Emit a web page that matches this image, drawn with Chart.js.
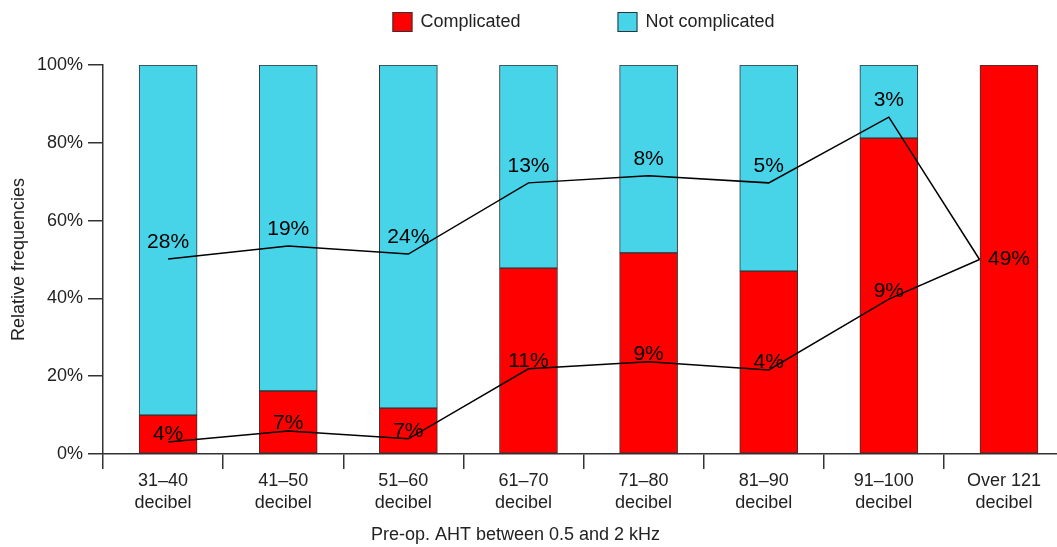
<!DOCTYPE html>
<html>
<head>
<meta charset="utf-8">
<script src="https://cdn.jsdelivr.net/npm/chart.js@4"></script>
<style>
  html, body { margin: 0; padding: 0; overflow: hidden; background: #fff; }
  #wrap { width: 1064px; height: 547px; position: relative; }
</style>
</head>
<body>
<div id="wrap"><canvas id="grafico"></canvas></div>
<script>
const categorias = [
  ["31–40", "decibel"], ["41–50", "decibel"], ["51–60", "decibel"], ["61–70", "decibel"],
  ["71–80", "decibel"], ["81–90", "decibel"], ["91–100", "decibel"], ["Over 121", "decibel"]
];
const complicado = [10, 16.2, 11.8, 47.8, 51.7, 47, 81.2, 100];
const naoComplicado = [90, 83.8, 88.2, 52.2, 48.3, 53, 18.8, 0];

// black lines with the percentage labels
const linhaInferior = [3.1, 5.9, 3.9, 21.9, 23.7, 21.6, 39.8, 50];
const rotulosInferior = ["4%", "7%", "7%", "11%", "9%", "4%", "9%", "49%"];
const linhaSuperior = [50.1, 53.5, 51.4, 69.7, 71.5, 69.7, 86.6, 50];
const rotulosSuperior = ["28%", "19%", "24%", "13%", "8%", "5%", "3%", ""];

const yTicks = [0, 20, 40, 60, 80, 100];

const VERMELHO = "#ff0000";
const CIANO = "#47d3e8";
const TEXTO = "#222";
const EIXO = "#333";
const MEIA_BARRA = 0.245;
const DESLOCAMENTO = 0.042; // bars sit a little right of the category centre

Chart.defaults.font.family = "'Liberation Sans', Arial, sans-serif";
Chart.defaults.color = TEXTO;

function barrasXY(valores) {
  return valores.map((v, i) => ({ x: i, y: v }));
}
// the last point of both lines sits on the left edge of the last bar
function pontos(valores) {
  return valores.map((v, i) => ({ x: i === valores.length - 1 ? i - MEIA_BARRA : i, y: v }));
}

const legendaERotulos = {
  id: "legendaERotulos",
  afterDatasetsDraw(chart) {
    const ctx = chart.ctx;
    const barras = chart.getDatasetMeta(0).data;
    ctx.save();
    ctx.fillStyle = "#000";
    ctx.font = "21px 'Liberation Sans', Arial, sans-serif";
    ctx.textAlign = "center";
    ctx.textBaseline = "middle";
    [[2, rotulosInferior, -8], [3, rotulosSuperior, -17]].forEach(([idx, rotulos, dy]) => {
      const pts = chart.getDatasetMeta(idx).data;
      pts.forEach((p, i) => {
        if (!rotulos[i]) return;
        const xb = barras[i].x;
        const naBorda = Math.abs(xb - p.x) > 2;
        ctx.fillText(rotulos[i], xb, naBorda ? p.y : p.y + dy);
      });
    });
    ctx.restore();
  },
  afterDraw(chart) {
    const ctx = chart.ctx;
    const area = chart.chartArea;
    ctx.save();
    ctx.font = "18px 'Liberation Sans', Arial, sans-serif";
    ctx.textBaseline = "middle";
    ctx.textAlign = "left";
    const itens = [["Complicated", VERMELHO], ["Not complicated", CIANO]];
    const caixa = 20, folga = 8, entre = 97;
    const larguras = itens.map(([t]) => caixa + folga + ctx.measureText(t).width);
    const total = larguras.reduce((a, b) => a + b, 0) + entre * (itens.length - 1);
    let x = (area.left + area.right) / 2 - total / 2;
    const yc = 22;
    itens.forEach(([t, cor], i) => {
      ctx.fillStyle = cor;
      ctx.fillRect(x, yc - caixa / 2, caixa, caixa);
      ctx.strokeStyle = EIXO;
      ctx.lineWidth = 1;
      ctx.strokeRect(x + 0.5, yc - caixa / 2 + 0.5, caixa - 1, caixa - 1);
      ctx.fillStyle = TEXTO;
      ctx.fillText(t, x + caixa + folga, yc);
      x += larguras[i] + entre;
    });
    // x axis title
    ctx.textAlign = "center";
    ctx.fillText("Pre-op. AHT between 0.5 and 2 kHz", (area.left + area.right) / 2 - 68, 535);
    ctx.restore();
  }
};

const estiloBarra = {
  xAxisID: "xv",
  borderColor: EIXO,
  borderWidth: 1,
  borderSkipped: false,
  grouped: false,
  barThickness: 58,
  order: 2,
};
const estiloLinha = {
  type: "line",
  xAxisID: "xv",
  borderColor: "#000",
  borderWidth: 1.5,
  pointRadius: 0,
  fill: false,
  tension: 0,
  order: 1,
};

new Chart(document.getElementById("grafico"), {
  type: "bar",
  data: {
    labels: categorias,
    datasets: [
      { ...estiloBarra, label: "Complicated", data: barrasXY(complicado), backgroundColor: VERMELHO },
      { ...estiloBarra, label: "Not complicated", data: barrasXY(naoComplicado), backgroundColor: CIANO },
      { ...estiloLinha, label: "inferior", data: pontos(linhaInferior), stack: "l1" },
      { ...estiloLinha, label: "superior", data: pontos(linhaSuperior), stack: "l2" },
    ],
  },
  options: {
    responsive: true,
    maintainAspectRatio: false,
    animation: false,
    layout: { padding: { top: 65, left: 0, right: 0, bottom: 0 } },
    plugins: {
      legend: { display: false },
      tooltip: { enabled: false },
    },
    scales: {
      x: {
        type: "category",
        offset: true,
        grid: { offset: true, drawOnChartArea: false, tickLength: 15, color: EIXO, lineWidth: 1.5 },
        border: { color: EIXO, width: 1.5 },
        ticks: { padding: 2, color: TEXTO, font: { size: 18, lineHeight: 1.17 }, maxRotation: 0, autoSkip: false },
        afterFit: (s) => { s.height = 93; },
      },
      xv: {
        type: "linear",
        display: false,
        offset: false,
        stacked: true,
        min: -0.5 - DESLOCAMENTO,
        max: categorias.length - 0.5 - DESLOCAMENTO,
      },
      y: {
        stacked: true,
        min: 0,
        max: 100,
        afterBuildTicks: (s) => { s.ticks = yTicks.map((v) => ({ value: v })); },
        ticks: { callback: (v) => v + "%", padding: 5, color: TEXTO, font: { size: 18 } },
        grid: { drawOnChartArea: false, tickLength: 15, color: EIXO, lineWidth: 1.5 },
        border: { color: EIXO, width: 1.5 },
        title: { display: true, text: "Relative frequencies", color: TEXTO, font: { size: 18 }, padding: { top: 8, bottom: 0 } },
        afterFit: (s) => { s.width = 103; },
      },
    },
  },
  plugins: [legendaERotulos],
});
</script>
</body>
</html>
